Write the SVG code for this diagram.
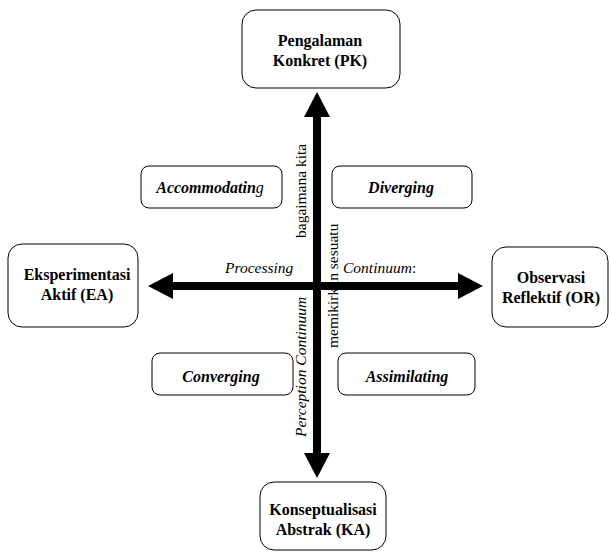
<svg xmlns="http://www.w3.org/2000/svg" width="611" height="553" viewBox="0 0 611 553">
  <style>
    text { fill: #000; }
    .box { fill: #fff; stroke: #000; stroke-width: 1; }
    .bold { font-weight: bold; font-size: 16px; text-anchor: middle; }
    .bi { font-weight: bold; font-style: italic; font-size: 16px; text-anchor: middle; }
    .lbl { font-size: 15.5px; }
    .it { font-style: italic; }
    .axis { stroke: #000; stroke-width: 8; fill: none; }
  </style>
  <defs>
    <marker id="head" markerUnits="userSpaceOnUse" markerWidth="26" markerHeight="26" refX="0" refY="13" orient="auto-start-reverse" viewBox="0 0 26 26">
      <path d="M0,0 L25,13 L0,26 Z" fill="#000"/>
    </marker>
  </defs>

  <rect width="611" height="553" fill="#fff"/>

  <g font-family="Liberation Serif, Tinos, DejaVu Serif, Noto Serif, Times New Roman, serif">
  <!-- axes -->
  <g id="connectors">
    <line class="axis" x1="317" y1="453" x2="317" y2="117" marker-start="url(#head)" marker-end="url(#head)"/>
    <line class="axis" x1="173" y1="286" x2="458" y2="286" marker-start="url(#head)" marker-end="url(#head)"/>
  </g>

  <!-- axis labels -->
  <g id="axis-labels">
    <text class="lbl" x="225" y="273"><tspan class="it">Processing</tspan></text>
    <text class="lbl" x="343" y="273"><tspan class="it">Continuum</tspan>:</text>
    <text class="lbl" transform="translate(306,238) rotate(-90)">bagaimana kita</text>
    <text class="lbl" transform="translate(338,348) rotate(-90)">memikirkan sesuatu</text>
    <text class="lbl it" transform="translate(306,437) rotate(-90)">Perception Continuum</text>
  </g>

  <!-- poles -->
  <g id="pk">
    <rect class="box" x="242" y="10" width="158" height="78" rx="14"/>
    <text class="bold" x="320" y="46">Pengalaman</text>
    <text class="bold" x="320" y="66">Konkret (PK)</text>
  </g>
  <g id="ea">
    <rect class="box" x="8" y="244" width="130" height="83" rx="14"/>
    <text class="bold" x="77" y="280">Eksperimentasi</text>
    <text class="bold" x="77" y="300">Aktif (EA)</text>
  </g>
  <g id="or">
    <rect class="box" x="492" y="247" width="116" height="80" rx="14"/>
    <text class="bold" x="551" y="283">Observasi</text>
    <text class="bold" x="551" y="303">Reflektif (OR)</text>
  </g>
  <g id="ka">
    <rect class="box" x="260" y="482" width="126" height="68" rx="14"/>
    <text class="bold" x="323" y="515">Konseptualisasi</text>
    <text class="bold" x="323" y="535">Abstrak (KA)</text>
  </g>

  <!-- learning styles -->
  <g id="accommodating">
    <rect class="box" x="141" y="166" width="141" height="42" rx="8"/>
    <text class="bi" x="210" y="193">Accommodatin<tspan font-weight="normal">g</tspan></text>
  </g>
  <g id="diverging">
    <rect class="box" x="332" y="166" width="140" height="42" rx="8"/>
    <text class="bi" x="401" y="193">Diverging</text>
  </g>
  <g id="converging">
    <rect class="box" x="152" y="353" width="141" height="42" rx="8"/>
    <text class="bi" x="221" y="382">Converging</text>
  </g>
  <g id="assimilating">
    <rect class="box" x="338" y="353" width="137" height="42" rx="8"/>
    <text class="bi" x="407" y="382">Assimilating</text>
  </g>
  </g>
</svg>
